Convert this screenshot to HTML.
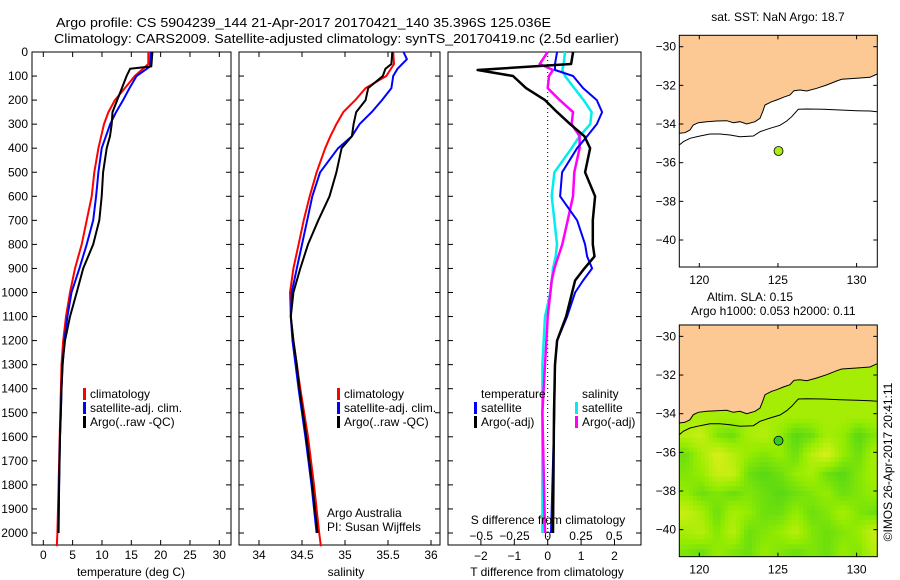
<!DOCTYPE html>
<html><head><meta charset="utf-8">
<style>
html,body{margin:0;padding:0;background:#fff;}
svg{display:block;font-family:"Liberation Sans",Arial,sans-serif;}
text{font-size:12px;fill:#000;}
</style></head>
<body>
<svg id="fig" width="900" height="580" viewBox="0 0 900 580" xmlns="http://www.w3.org/2000/svg">
<text x="56" y="27" font-size="13" textLength="495" lengthAdjust="spacingAndGlyphs" style="font-size:13px">Argo profile: CS 5904239_144 21-Apr-2017 20170421_140 35.396S 125.036E</text>
<text x="54" y="43" textLength="565" lengthAdjust="spacingAndGlyphs" style="font-size:13px">Climatology: CARS2009. Satellite-adjusted climatology: synTS_20170419.nc (2.5d earlier)</text>
<g id="p1"></g>
<g id="p2"></g>
<g id="p3"></g>
<g id="m1"></g>
<g id="m2"></g>
<text x="778" y="21" text-anchor="middle">sat. SST: NaN Argo: 18.7</text>
<text x="707" y="301">Altim. SLA: 0.15</text>
<text x="691" y="315">Argo h1000: 0.053 h2000: 0.11</text>
<text transform="translate(892,462) rotate(-90)" text-anchor="middle">©IMOS 26-Apr-2017 20:41:11</text>
</svg>
<script>
// ---------- data ----------
const tDepth = [0,60,70,100,150,200,250,300,350,400,500,600,700,800,900,1000,1100,1200,1300,1400,1500,1600,1800,2000];
const tArgo  = [18.6,18.4,14.8,14.2,13.4,12.6,11.8,11.65,11.37,10.8,10.2,9.95,9.55,8.5,6.8,5.7,4.55,3.7,3.25,3.1,3.0,2.85,2.7,2.6];
const tClimDepth = [0,50,70,100,150,200,250,300,400,500,600,700,800,900,1000,1100,1200,1300,1400,1600,1800,2000,2055];
const tClim  = [17.9,17.9,17.0,15.6,13.9,12.2,11.1,10.35,9.4,8.7,8.25,7.4,6.55,5.4,4.55,3.87,3.4,3.1,3.0,2.8,2.6,2.4,2.3];
const tSatDepth = [0,60,100,150,200,250,300,400,500,600,700,800,900,1000,1100,1200,1300,1400,1600,1800,2000];
const tSat   = [18.3,18.2,15.9,14.7,13.6,12.4,11.4,9.95,9.4,9.0,8.5,7.4,6.15,4.8,4.1,3.6,3.3,3.1,2.85,2.7,2.55];

const sDepth = [0,50,70,100,150,200,250,300,350,400,500,600,700,800,900,1000,1100,1200,1300,1400,1600,1800,2000];
const sArgo  = [35.55,35.54,35.47,35.44,35.27,35.24,35.13,35.10,35.08,34.96,34.90,34.82,34.69,34.57,34.48,34.40,34.37,34.40,34.44,34.47,34.55,34.62,34.68];
const sClimDepth = [0,50,100,150,200,250,300,350,400,500,600,700,800,900,1000,1100,1200,1300,1400,1600,1800,2000,2055];
const sClim  = [35.56,35.57,35.48,35.24,35.12,34.98,34.90,34.83,34.77,34.67,34.59,34.52,34.46,34.40,34.36,34.37,34.40,34.44,34.48,34.57,34.64,34.70,34.72];
const sSatDepth = [0,30,70,100,150,200,250,300,350,400,500,600,700,800,900,1000,1100,1200,1400,1600,1800,2000];
const sSat   = [35.68,35.72,35.61,35.56,35.54,35.43,35.31,35.17,35.08,34.92,34.71,34.62,34.56,34.50,34.44,34.38,34.37,34.39,34.46,34.54,34.61,34.67];

const dDepth = [0,50,75,100,150,200,250,300,350,400,500,600,700,800,850,900,950,1000,1100,1200,1300,1500,2000];
const dTArgo = [0.76,0.7,-2.1,-1.04,-0.65,-0.08,0.28,0.67,1.1,1.27,1.12,1.42,1.35,1.35,1.4,1.1,0.82,0.73,0.55,0.28,0.22,0.19,0.16];
const dTSat  = [0.28,0.22,0.22,0.76,1.06,1.47,1.63,1.47,1.18,0.88,0.43,0.37,0.88,1.12,1.18,1.33,1.06,0.82,0.58,0.28,0.22,0.2,0.1];
const dSSat  = [0.13,0.12,0.11,0.13,0.2,0.27,0.33,0.32,0.24,0.18,0.05,0.03,0.05,0.07,0.06,0.04,0.03,0.02,-0.02,-0.03,-0.04,-0.04,-0.04];
const dSArgo = [0,-0.06,0.04,0.01,0,0.09,0.19,0.18,0.24,0.24,0.2,0.19,0.15,0.11,0.08,0.05,0.03,0.02,0,-0.01,-0.02,-0.04,-0.02];

const depthTicks = [0,100,200,300,400,500,600,700,800,900,1000,1100,1200,1300,1400,1500,1600,1700,1800,1900,2000];
const tTicks = [0,5,10,15,20,25,30];
const sTicks = [34,34.5,35,35.5,36];
const sTickLabels = ["34","34.5","35","35.5","36"];
const dtTicks = [-2,-1,0,1,2];
const dsTicks = [-0.5,-0.25,0,0.25,0.5];
const dsTickLabels = ["\u22120.5","\u22120.25","0","0.25","0.5"];
const latTicks = [-30,-32,-34,-36,-38,-40];
const lonTicks = [120,125,130];
const argoPos = [125.036,-35.396];

// ---------- helpers ----------
const NS="http://www.w3.org/2000/svg";
function el(parent,tag,attrs,txt){const e=document.createElementNS(NS,tag);for(const k in attrs)e.setAttribute(k,attrs[k]);if(txt!==undefined)e.textContent=txt;parent.appendChild(e);return e;}
const TOP=52, BOT=545;
const yD = d => TOP + d*0.2405;
const xT = t => 43.3 + t*5.867;
const xS = s => 259 + (s-34)*86;
const xDT = v => 547.7 + v*33.4;
const xDS = v => 547.7 + v*133;

function frame(g,x0,x1,name){
  const r=el(g,'rect',{x:x0,y:TOP,width:x1-x0,height:BOT-TOP,fill:'none',stroke:'#000','stroke-width':1});
  
  
}
function depthTicksOn(g,x0,x1,labels){
  depthTicks.forEach(d=>{
    const y=yD(d);
    el(g,'line',{x1:x0,y1:y,x2:x0+5,y2:y,stroke:'#000'});
    el(g,'line',{x1:x1-5,y1:y,x2:x1,y2:y,stroke:'#000'});
    if(labels){const t=el(g,'text',{x:28,y:y+4,'text-anchor':'end'},String(d));
      
      }
  });
}
function xTicksOn(g,vals,labs,fx,ly){
  vals.forEach((v,i)=>{
    const x=fx(v);
    el(g,'line',{x1:x,y1:BOT,x2:x,y2:BOT-5,stroke:'#000'});
    el(g,'line',{x1:x,y1:TOP,x2:x,y2:TOP+5,stroke:'#000'});
    if(ly){const t=el(g,'text',{x:x,y:ly,'text-anchor':'middle'},labs[i]);
      
      }
  });
}
function line(g,depths,vals,fx,color,w,name){
  const pts=depths.map((d,i)=>fx(vals[i]).toFixed(1)+','+yD(d).toFixed(1)).join(' ');
  const p=el(g,'polyline',{points:pts,fill:'none',stroke:color,'stroke-width':w,'stroke-linejoin':'round'});
  
  
}
function legend(g,x,y,items){
  items.forEach((it,i)=>{
    const yy=y+i*14;
    if(it.c) el(g,'rect',{x:x,y:yy-10,width:3,height:12,fill:it.c});
    const t=el(g,'text',{x:x+7,y:yy},it.t);
    
    
  });
}

// ---------- panel 1 ----------
const p1=document.getElementById('p1');
frame(p1,32,231,'temperature-axes');
depthTicksOn(p1,32,231,true);
xTicksOn(p1,tTicks,tTicks.map(String),xT,559);
line(p1,tClimDepth,tClim,xT,'#f00',2,'temperature-climatology-line');
line(p1,tSatDepth,tSat,xT,'#00f',2,'temperature-satellite-line');
line(p1,tDepth,tArgo,xT,'#000',2,'temperature-argo-line');
el(p1,'text',{x:131,y:576,'text-anchor':'middle'},'temperature (deg C)');
legend(p1,83,398,[{c:'#f00',t:'climatology'},{c:'#00f',t:'satellite-adj. clim.'},{c:'#000',t:'Argo(..raw -QC)'}]);

// ---------- panel 2 ----------
const p2=document.getElementById('p2');
frame(p2,239,440,'salinity-axes');
depthTicksOn(p2,239,440,false);
xTicksOn(p2,sTicks,sTickLabels,xS,559);
line(p2,sClimDepth,sClim,xS,'#f00',2,'salinity-climatology-line');
line(p2,sSatDepth,sSat,xS,'#00f',2,'salinity-satellite-line');
line(p2,sDepth,sArgo,xS,'#000',2,'salinity-argo-line');
el(p2,'text',{x:346,y:576,'text-anchor':'middle'},'salinity');
legend(p2,337,398,[{c:'#f00',t:'climatology'},{c:'#00f',t:'satellite-adj. clim.'},{c:'#000',t:'Argo(..raw -QC)'}]);
el(p2,'text',{x:327,y:517},'Argo Australia');
el(p2,'text',{x:327,y:531},'PI: Susan Wijffels');

// ---------- panel 3 ----------
const p3=document.getElementById('p3');
frame(p3,448,641,'difference-axes');
depthTicksOn(p3,448,641,false);
el(p3,'line',{x1:xDT(0),y1:TOP,x2:xDT(0),y2:BOT,stroke:'#000','stroke-dasharray':'1,3'});
dtTicks.forEach(v=>{const x=xDT(v);el(p3,'line',{x1:x,y1:BOT,x2:x,y2:BOT-5,stroke:'#000'});
  const t=el(p3,'text',{x:x,y:560,'text-anchor':'middle'},v<0?'\u2212'+(-v):String(v));
  
  });
dsTicks.forEach((v,i)=>{const x=xDS(v);
  const t=el(p3,'text',{x:x,y:540,'text-anchor':'middle'},dsTickLabels[i]);
  
  });
line(p3,dDepth,dSSat,xDS,'#0ee',2.5,'salinity-satellite-diff-line');
line(p3,dDepth,dSArgo,xDS,'#f0f',2.5,'salinity-argo-diff-line');
line(p3,dDepth,dTSat,xDT,'#00f',2,'temperature-satellite-diff-line');
line(p3,dDepth,dTArgo,xDT,'#000',2.5,'temperature-argo-diff-line');
el(p3,'text',{x:548,y:524,'text-anchor':'middle'},'S difference from climatology');
el(p3,'text',{x:547,y:576,'text-anchor':'middle'},'T difference from climatology');
legend(p3,474,398,[{t:'temperature'},{c:'#00f',t:'satellite'},{c:'#000',t:'Argo(-adj)'}]);
legend(p3,575,398,[{t:'salinity'},{c:'#0ee',t:'satellite'},{c:'#f0f',t:'Argo(-adj)'}]);

// ---------- maps ----------
const coast=[[118,340],[135,338],[150,330],[160,315],[175,308],[200,305],[230,303],[260,302],[280,308],[300,305],[320,312],[345,305],[360,295],[368,275],[375,255],[395,245],[410,240],[430,232],[450,225],[462,212],[480,210],[500,213],[530,205],[560,195],[590,183],[605,178],[650,175],[690,172],[705,165],[712,162]];
const iso=[[118,375],[130,365],[150,355],[180,348],[210,342],[240,342],[270,345],[300,350],[340,348],[360,335],[390,325],[420,316],[440,303],[455,290],[475,268],[500,267],[550,268],[600,270],[650,272],[690,273],[712,275]];
const slaLats=[-34,-35,-36,-37,-38,-39,-40,-41];
const slaRows=[
[0.6,0.6,0.6,0.6,0.6,0.6,0.6,0.6,0.6,0.6,0.6,0.6,0.6],
[0.7,0.8,0.4,0.3,0.6,0.7,0.5,0.2,0.3,0.6,0.5,0.2,0.4],
[0.3,0.6,0.9,0.7,0.5,0.4,0.5,0.3,0.7,0.9,0.5,0.3,0.6],
[0.4,0.5,0.8,0.8,0.3,0.2,0.3,0.5,0.6,0.3,0.2,0.4,0.6],
[0.5,0.3,0.4,0.3,0.4,0.3,0.2,0.3,0.4,0.5,0.3,0.4,0.5],
[0.8,0.6,0.3,0.6,0.5,0.3,0.3,0.5,0.3,0.4,0.6,0.4,0.3],
[0.6,0.7,0.4,0.7,0.3,0.4,0.5,0.7,0.4,0.3,0.4,0.5,0.8],
[0.4,0.3,0.5,0.4,0.3,0.5,0.4,0.3,0.4,0.3,0.5,0.4,0.7]];
const slaLons=[119,120,121,122,123,124,125,126,127,128,129,130,131];

function drawMap(g,dy,filled,prefix){
  const X0=679.3,X1=877.3,Y0=35.3+dy,Y1=267+dy;
  const xL=lon=>699.3+(lon-120)*15.73, yL=lat=>46.7+dy-(lat+30)*19.33;
  const cp='clip'+prefix;
  const defs=el(g,'defs',{});const c=el(defs,'clipPath',{id:cp});el(c,'rect',{x:X0,y:Y0,width:X1-X0,height:Y1-Y0});
  const inner=el(g,'g',{'clip-path':'url(#'+cp+')'});
  if(filled){
    const fld=el(inner,'g',{});
    
    
    const col=v=>{let a,b,t;if(v<0.5){a=[47,204,34];b=[150,236,0];t=v/0.5;}else{a=[150,236,0];b=[232,240,32];t=(v-0.5)/0.5;}
      return 'rgb('+a.map((q,i)=>Math.round(q+(b[i]-q)*t)).join(',')+')';};
    const step=0.25;
    for(let lat=-29;lat>-41.6;lat-=step){for(let lon=118.6;lon<131.5;lon+=step){
      const fr=Math.min(Math.max((-lat-34),0),7), fc=Math.min(Math.max(lon-119,0),12);
      const r0=Math.floor(fr),c0=Math.floor(fc),r1=Math.min(r0+1,7),c1=Math.min(c0+1,12),u=fr-r0,w=fc-c0;
      const v=slaRows[r0][c0]*(1-u)*(1-w)+slaRows[r0][c1]*(1-u)*w+slaRows[r1][c0]*u*(1-w)+slaRows[r1][c1]*u*w;
      el(fld,'rect',{x:xL(lon).toFixed(1),y:yL(lat).toFixed(1),width:(step*15.73+0.6).toFixed(1),height:(step*19.33+0.6).toFixed(1),fill:col(v)});
    }}
  }
  const tr=p=>(640+p[0]/3).toFixed(1)+','+(20+dy+p[1]/3).toFixed(1);
  const land=el(inner,'polygon',{points:coast.map(tr).join(' ')+' 877.3,'+(Y0)+' 679.3,'+Y0,fill:'#fcc894',stroke:'none'});
  
  
  el(inner,'polyline',{points:coast.map(tr).join(' '),fill:'none',stroke:'#000','stroke-width':1});
  el(inner,'polyline',{points:iso.map(tr).join(' '),fill:'none',stroke:'#000','stroke-width':1});
  el(g,'rect',{x:X0,y:Y0,width:X1-X0,height:Y1-Y0,fill:'none',stroke:'#000'});
  latTicks.forEach(l=>{const y=yL(l);el(g,'line',{x1:X0,y1:y,x2:X0+4,y2:y,stroke:'#000'});el(g,'line',{x1:X1-4,y1:y,x2:X1,y2:y,stroke:'#000'});
    const t=el(g,'text',{x:676,y:y+4,'text-anchor':'end'},'\u2212'+(-l));
    
    });
  lonTicks.forEach(l=>{const x=xL(l);el(g,'line',{x1:x,y1:Y0,x2:x,y2:Y0+4,stroke:'#000'});el(g,'line',{x1:x,y1:Y1,x2:x,y2:Y1-4,stroke:'#000'});
    const t=el(g,'text',{x:x,y:Y1+17,'text-anchor':'middle'},String(l));
    
    });
  const dot=el(g,'circle',{cx:xL(argoPos[0]),cy:yL(argoPos[1]),r:4.5,fill:filled?'#33cc22':'#aaee11',stroke:'#000','stroke-width':0.8});
  
  
}
drawMap(document.getElementById('m1'),0,false,'a');
drawMap(document.getElementById('m2'),289.67,true,'b');
</script>
</body></html>
